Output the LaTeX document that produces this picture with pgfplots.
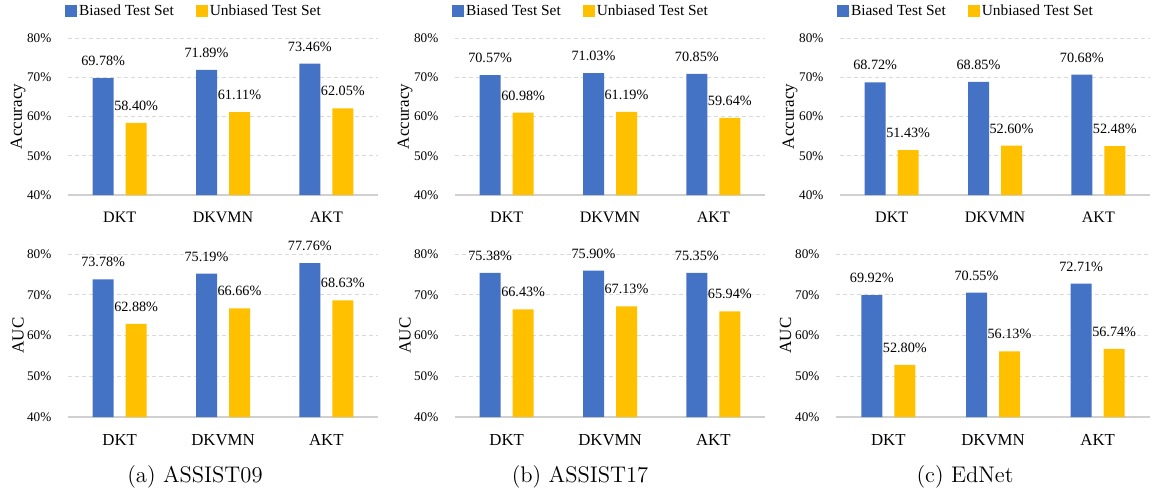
\documentclass[border=0pt]{standalone}
\usepackage{pgfplots}
\pgfplotsset{compat=1.18}
\usepackage{fontspec}
\setmainfont{Liberation Serif}
\newcommand{\tnr}{\rmfamily}
\newcommand{\lmcap}{\usefont{TU}{lmr}{m}{n}}
\definecolor{barblue}{HTML}{4472C4}
\definecolor{bargold}{HTML}{FFC000}
\definecolor{gridgray}{HTML}{D9D9D9}
\definecolor{axisgray}{HTML}{D0D0D0}
\pgfplotsset{
  mybar/.style={
    scale only axis, width=155pt, height=78.5pt,
    ybar=6pt, bar width=10.5pt,
    xmin=-0.5, xmax=2.5, ymin=40, ymax=80,
    xtick={0,1,2}, xticklabels={DKT,DKVMN,AKT},
    ytick={40,50,60,70,80}, yticklabels={40\%,50\%,60\%,70\%,80\%},
    ymajorgrids, grid style={dash pattern=on 2pt off 1.5pt, color=gridgray, line width=0.5pt},
    axis x line*=bottom, axis y line*=left,
    axis line style={-},
    x axis line style={draw=axisgray, line width=0.6pt},
    y axis line style={draw=none},
    major tick length=0pt,
    xticklabel style={font=\tnr\fontsize{8}{9}\selectfont, yshift=-4.8pt},
    yticklabel style={font=\tnr\fontsize{6.6}{8}\selectfont, xshift=-4.8pt},
    every axis y label/.style={at={(axis description cs:-0.161,0.5)}, rotate=90, anchor=center, font=\tnr\fontsize{8.5}{10}\selectfont},
    point meta=explicit symbolic,
    nodes near coords,
    every node near coord/.append style={font=\tnr\fontsize{7.1}{8}\selectfont, yshift=2.6pt, text=black},
    legend image code/.code={\fill[##1] (0pt,-3pt) rectangle (6pt,3pt); \path (0pt,0pt) -- (7pt,0pt);},
    legend style={at={(axis description cs:0.403,1.169)}, anchor=center, draw=none, fill=none,
      inner sep=0pt,
      legend columns=2, font=\tnr\fontsize{7.7}{9}\selectfont,
      /tikz/every even column/.append style={column sep=11pt},
      nodes={inner sep=0pt, font=\tnr\fontsize{7.7}{9}\selectfont}},
    legend cell align=left,
  },
  toprow/.style={height=78.5pt, ylabel={Accuracy}},
  botrow/.style={height=81.5pt, ylabel={AUC},
    xticklabel style={font=\tnr\fontsize{8.4}{9}\selectfont, yshift=-0.3pt}},
}
\begin{document}
\begin{tikzpicture}
\path[use as bounding box] (0,0) rectangle (577pt,-246.5pt);
% ---------- top row: Accuracy ----------
\begin{axis}[mybar, toprow, at={(34pt,-97.5pt)}, anchor=south west]
\addplot[fill=barblue, draw=none] coordinates {(0,69.78) [69.78\%] (1,71.89) [71.89\%] (2,73.46) [73.46\%]};
\addplot[fill=bargold, draw=none] coordinates {(0,58.40) [58.40\%] (1,61.11) [61.11\%] (2,62.05) [62.05\%]};
\legend{Biased Test Set, Unbiased Test Set}
\end{axis}
\begin{axis}[mybar, toprow, at={(227.5pt,-97.5pt)}, anchor=south west]
\addplot[fill=barblue, draw=none] coordinates {(0,70.57) [70.57\%] (1,71.03) [71.03\%] (2,70.85) [70.85\%]};
\addplot[fill=bargold, draw=none] coordinates {(0,60.98) [60.98\%] (1,61.19) [61.19\%] (2,59.64) [59.64\%]};
\legend{Biased Test Set, Unbiased Test Set}
\end{axis}
\begin{axis}[mybar, toprow, at={(420pt,-97.5pt)}, anchor=south west]
\addplot[fill=barblue, draw=none] coordinates {(0,68.72) [68.72\%] (1,68.85) [68.85\%] (2,70.68) [70.68\%]};
\addplot[fill=bargold, draw=none] coordinates {(0,51.43) [51.43\%] (1,52.60) [52.60\%] (2,52.48) [52.48\%]};
\legend{Biased Test Set, Unbiased Test Set}
\end{axis}
% ---------- bottom row: AUC ----------
\begin{axis}[mybar, botrow, at={(34pt,-208.5pt)}, anchor=south west]
\addplot[fill=barblue, draw=none] coordinates {(0,73.78) [73.78\%] (1,75.19) [75.19\%] (2,77.76) [77.76\%]};
\addplot[fill=bargold, draw=none] coordinates {(0,62.88) [62.88\%] (1,66.66) [66.66\%] (2,68.63) [68.63\%]};
\end{axis}
\begin{axis}[mybar, botrow, at={(227.5pt,-208.5pt)}, anchor=south west]
\addplot[fill=barblue, draw=none] coordinates {(0,75.38) [75.38\%] (1,75.90) [75.90\%] (2,75.35) [75.35\%]};
\addplot[fill=bargold, draw=none] coordinates {(0,66.43) [66.43\%] (1,67.13) [67.13\%] (2,65.94) [65.94\%]};
\end{axis}
\begin{axis}[mybar, botrow, width=157pt, at={(418pt,-208.5pt)}, anchor=south west]
\addplot[fill=barblue, draw=none] coordinates {(0,69.92) [69.92\%] (1,70.55) [70.55\%] (2,72.71) [72.71\%]};
\addplot[fill=bargold, draw=none] coordinates {(0,52.80) [52.80\%] (1,56.13) [56.13\%] (2,56.74) [56.74\%]};
\end{axis}
% ---------- captions ----------
\node[font=\lmcap\fontsize{11.3}{13}\selectfont] at (97.5pt,-238.5pt) {(a) ASSIST09};
\node[font=\lmcap\fontsize{11.3}{13}\selectfont] at (290pt,-238.5pt) {(b) ASSIST17};
\node[font=\lmcap\fontsize{11.3}{13}\selectfont] at (482.5pt,-238.5pt) {(c) EdNet};
\end{tikzpicture}
\end{document}
